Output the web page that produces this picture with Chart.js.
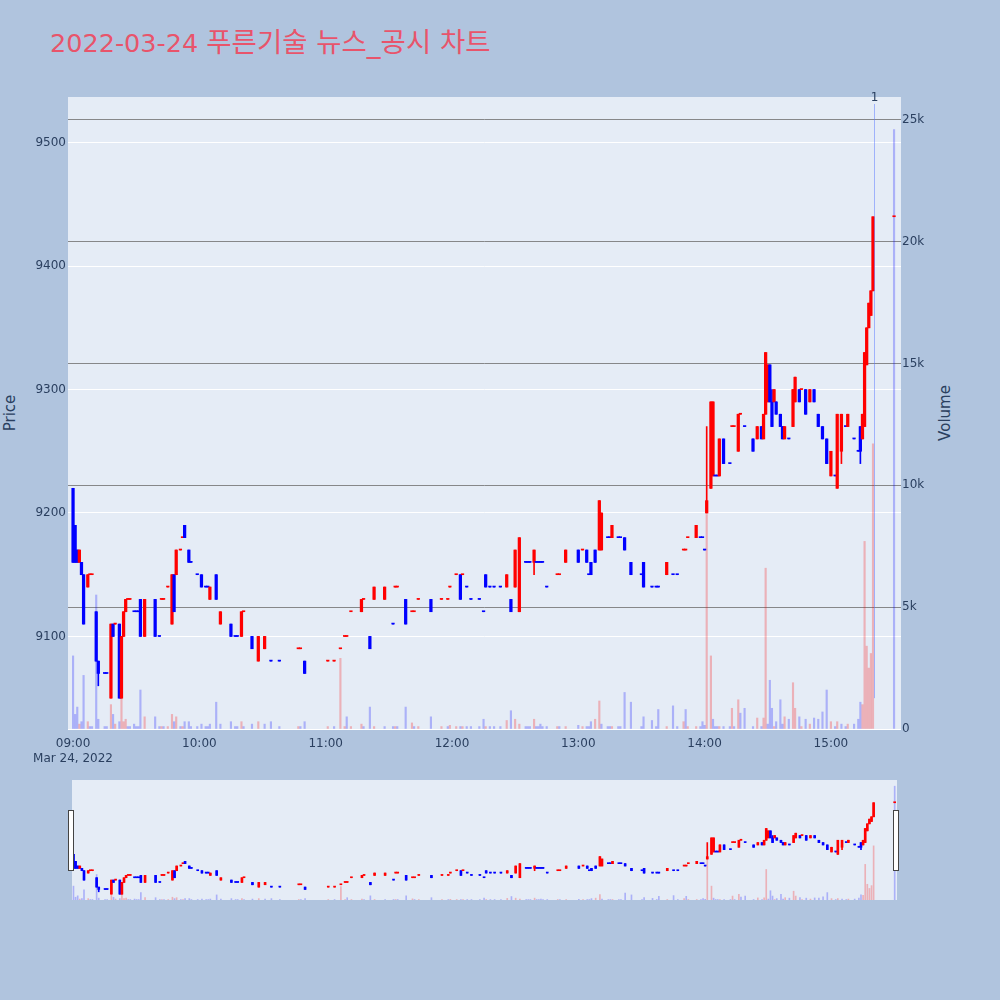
<!DOCTYPE html>
<html>
<head>
<meta charset="utf-8">
<script src="https://cdn.jsdelivr.net/npm/chart.js@4.4.0/dist/chart.umd.min.js"></script>
<style>
  html, body { margin: 0; padding: 0; background: #b0c4de; }
  body { width: 1000px; height: 1000px; position: relative; overflow: hidden; font-family: "DejaVu Sans", Verdana, sans-serif; }
  #title { position: absolute; left: 50px; top: 29px; font-size: 25.5px; line-height: 1; color: #e8546b; white-space: nowrap; }
  #title .ko { font-family: "DejaVu Sans", "Noto Sans CJK KR", sans-serif; font-size: 27.5px; }
  .ytitle { position: absolute; font-size: 15px; color: #2a3f5f; transform: translate(-50%, -50%) rotate(-90deg); white-space: nowrap; }
  #main { position: absolute; left: 0; top: 0; }
  #slider { position: absolute; left: 0; top: 770px; }
</style>
</head>
<body>
<div id="title">2022-03-24 <span class="ko">푸른기술 뉴스_공시 차트</span></div>
<div class="ytitle" style="left:10px; top:413px">Price</div>
<div class="ytitle" style="left:945px; top:413px">Volume</div>
<canvas id="main" width="1000" height="770"></canvas>
<canvas id="slider" width="1000" height="140"></canvas>
<script>
// minutes after 09:00
const minutes = [
  0, 1, 2, 3, 4, 5, 7, 8, 9, 11,
  12, 15, 16, 18, 19, 20, 22, 23, 24, 25,
  26, 27, 29, 30, 31, 32, 34, 39, 41, 42,
  43, 45, 47, 48, 49, 51, 52, 53, 55, 56,
  59, 61, 63, 64, 65, 68, 70, 75, 77, 78,
  80, 81, 85, 88, 91, 94, 98, 107, 108, 110,
  121, 124, 127, 129, 130, 132, 137, 138, 141, 143,
  148, 152, 153, 154, 158, 161, 162, 164, 170, 175,
  178, 179, 182, 184, 185, 187, 189, 193, 195, 196,
  198, 200, 203, 206, 208, 210, 212, 215, 216, 217,
  219, 220, 221, 222, 223, 225, 230, 231, 234, 240,
  242, 244, 245, 246, 248, 250, 251, 254, 255, 256,
  259, 260, 262, 265, 270, 271, 275, 277, 278, 282,
  285, 287, 290, 291, 292, 296, 298, 299, 300, 301,
  303, 304, 305, 306, 307, 309, 312, 313, 314, 316,
  317, 319, 323, 325, 327, 328, 329, 330, 331, 332,
  333, 334, 336, 337, 338, 340, 342, 343, 345, 346,
  348, 350, 352, 354, 356, 358, 360, 362, 363, 365,
  367, 368, 371, 373, 374, 375, 376, 377, 378, 379,
  380, 390
];
const opens = [
  9220, 9190, 9170, 9160, 9160, 9150, 9140, 9150, 9150, 9120,
  9080, 9070, 9070, 9050, 9110, 9110, 9110, 9050, 9100, 9120,
  9130, 9130, 9120, 9120, 9120, 9130, 9100, 9130, 9100, 9130,
  9130, 9140, 9110, 9150, 9150, 9170, 9180, 9190, 9170, 9160,
  9150, 9150, 9140, 9140, 9130, 9150, 9110, 9110, 9100, 9100,
  9100, 9120, 9100, 9080, 9090, 9080, 9080, 9090, 9090, 9080,
  9080, 9080, 9090, 9100, 9100, 9120, 9120, 9130, 9100, 9130,
  9130, 9110, 9140, 9140, 9130, 9120, 9120, 9130, 9130, 9130,
  9130, 9140, 9150, 9150, 9150, 9140, 9130, 9130, 9120, 9150,
  9140, 9140, 9140, 9140, 9130, 9140, 9120, 9160, 9160, 9160,
  9160, 9160, 9160, 9160, 9160, 9140, 9150, 9150, 9160, 9170,
  9170, 9170, 9150, 9160, 9170, 9170, 9170, 9180, 9180, 9180,
  9180, 9180, 9180, 9160, 9150, 9160, 9140, 9140, 9140, 9150,
  9150, 9150, 9170, 9170, 9180, 9180, 9180, 9180, 9170, 9200,
  9220, 9230, 9230, 9230, 9230, 9260, 9240, 9270, 9270, 9250,
  9280, 9270, 9260, 9260, 9270, 9260, 9280, 9290, 9320, 9290,
  9290, 9290, 9280, 9270, 9260, 9260, 9270, 9290, 9300, 9300,
  9300, 9290, 9300, 9280, 9270, 9260, 9230, 9230, 9220, 9250,
  9270, 9270, 9260, 9250, 9270, 9260, 9270, 9320, 9350, 9360,
  9380, 9440
];
const highs = [
  9220, 9190, 9170, 9170, 9160, 9150, 9150, 9150, 9150, 9120,
  9080, 9070, 9070, 9110, 9110, 9110, 9110, 9100, 9120, 9130,
  9130, 9130, 9120, 9120, 9120, 9130, 9130, 9130, 9100, 9130,
  9130, 9140, 9150, 9150, 9170, 9170, 9180, 9190, 9170, 9160,
  9150, 9150, 9140, 9140, 9140, 9150, 9120, 9110, 9100, 9100,
  9120, 9120, 9100, 9100, 9100, 9080, 9080, 9090, 9090, 9080,
  9080, 9080, 9090, 9100, 9100, 9120, 9130, 9130, 9100, 9140,
  9140, 9110, 9140, 9140, 9130, 9120, 9120, 9130, 9130, 9130,
  9130, 9140, 9150, 9150, 9150, 9140, 9130, 9130, 9120, 9150,
  9140, 9140, 9140, 9150, 9130, 9170, 9180, 9160, 9160, 9160,
  9170, 9160, 9160, 9160, 9160, 9140, 9150, 9150, 9170, 9170,
  9170, 9170, 9150, 9160, 9170, 9210, 9200, 9180, 9180, 9190,
  9180, 9180, 9180, 9160, 9150, 9160, 9140, 9140, 9140, 9160,
  9150, 9150, 9170, 9170, 9180, 9190, 9180, 9180, 9170, 9270,
  9290, 9290, 9230, 9230, 9260, 9260, 9240, 9270, 9270, 9280,
  9280, 9270, 9260, 9270, 9270, 9280, 9330, 9320, 9320, 9300,
  9300, 9290, 9280, 9270, 9270, 9260, 9300, 9310, 9300, 9300,
  9300, 9300, 9300, 9280, 9270, 9260, 9250, 9230, 9280, 9280,
  9270, 9280, 9260, 9250, 9270, 9280, 9330, 9350, 9370, 9380,
  9440, 9440
];
const lows = [
  9160, 9160, 9160, 9160, 9150, 9110, 9140, 9150, 9150, 9080,
  9060, 9070, 9070, 9050, 9100, 9110, 9050, 9050, 9100, 9120,
  9130, 9130, 9120, 9120, 9120, 9100, 9100, 9100, 9100, 9130,
  9130, 9140, 9110, 9120, 9150, 9170, 9180, 9180, 9160, 9160,
  9150, 9140, 9140, 9140, 9130, 9130, 9110, 9100, 9100, 9100,
  9100, 9120, 9090, 9080, 9090, 9080, 9080, 9090, 9090, 9070,
  9080, 9080, 9090, 9100, 9100, 9120, 9120, 9130, 9090, 9130,
  9130, 9110, 9140, 9140, 9110, 9120, 9120, 9130, 9120, 9130,
  9130, 9140, 9150, 9130, 9150, 9140, 9130, 9130, 9120, 9140,
  9140, 9140, 9140, 9140, 9120, 9140, 9120, 9160, 9160, 9160,
  9150, 9160, 9160, 9160, 9160, 9140, 9150, 9150, 9160, 9160,
  9170, 9160, 9150, 9150, 9160, 9170, 9170, 9180, 9180, 9180,
  9180, 9180, 9170, 9150, 9150, 9140, 9140, 9140, 9140, 9150,
  9150, 9150, 9170, 9170, 9180, 9180, 9180, 9180, 9170, 9200,
  9220, 9230, 9230, 9230, 9230, 9240, 9240, 9270, 9270, 9250,
  9280, 9270, 9250, 9260, 9260, 9260, 9280, 9290, 9290, 9270,
  9290, 9280, 9270, 9260, 9260, 9260, 9270, 9290, 9290, 9300,
  9280, 9290, 9290, 9270, 9260, 9240, 9230, 9230, 9220, 9240,
  9270, 9270, 9260, 9250, 9240, 9260, 9270, 9320, 9350, 9360,
  9380, 9440
];
const closes = [
  9160, 9160, 9160, 9170, 9150, 9110, 9150, 9150, 9150, 9080,
  9070, 9070, 9070, 9110, 9100, 9110, 9050, 9100, 9120, 9130,
  9130, 9130, 9120, 9120, 9120, 9100, 9130, 9100, 9100, 9130,
  9130, 9140, 9150, 9120, 9170, 9170, 9180, 9180, 9160, 9160,
  9150, 9140, 9140, 9140, 9140, 9130, 9120, 9100, 9100, 9100,
  9120, 9120, 9090, 9100, 9100, 9080, 9080, 9090, 9090, 9070,
  9080, 9080, 9090, 9100, 9100, 9120, 9130, 9130, 9090, 9140,
  9140, 9110, 9140, 9140, 9110, 9120, 9120, 9130, 9120, 9130,
  9130, 9140, 9150, 9130, 9150, 9140, 9130, 9130, 9120, 9140,
  9140, 9140, 9140, 9150, 9120, 9170, 9180, 9160, 9160, 9160,
  9170, 9160, 9160, 9160, 9160, 9140, 9150, 9150, 9170, 9160,
  9170, 9160, 9150, 9150, 9160, 9210, 9200, 9180, 9180, 9190,
  9180, 9180, 9170, 9150, 9150, 9140, 9140, 9140, 9140, 9160,
  9150, 9150, 9170, 9170, 9180, 9190, 9180, 9180, 9170, 9210,
  9290, 9290, 9230, 9230, 9260, 9240, 9240, 9270, 9270, 9280,
  9280, 9270, 9250, 9270, 9260, 9280, 9330, 9320, 9290, 9270,
  9300, 9280, 9270, 9260, 9270, 9260, 9300, 9310, 9290, 9300,
  9280, 9300, 9290, 9270, 9260, 9240, 9250, 9230, 9280, 9280,
  9270, 9280, 9260, 9250, 9250, 9280, 9330, 9350, 9370, 9380,
  9440, 9440
];
const volumes = [
  3000, 600, 900, 200, 300, 2200, 300, 100, 100, 5500,
  400, 100, 100, 1000, 600, 200, 300, 1800, 300, 400,
  100, 100, 200, 100, 100, 1600, 500, 500, 100, 100,
  100, 100, 600, 300, 500, 100, 100, 300, 300, 100,
  100, 200, 100, 100, 200, 1100, 200, 300, 100, 100,
  300, 100, 200, 300, 200, 300, 100, 100, 100, 300,
  100, 100, 2900, 100, 500, 100, 200, 100, 900, 100,
  100, 100, 100, 100, 900, 250, 100, 100, 500, 100,
  100, 150, 100, 100, 100, 100, 100, 100, 400, 100,
  100, 100, 100, 350, 750, 400, 200, 100, 100, 100,
  400, 100, 100, 200, 100, 100, 100, 100, 100, 150,
  100, 100, 100, 300, 400, 1150, 200, 100, 100, 100,
  100, 100, 1500, 1100, 100, 500, 350, 100, 800, 100,
  950, 100, 300, 800, 100, 100, 100, 300, 150, 8800,
  3000, 400, 100, 100, 100, 100, 100, 850, 100, 1200,
  650, 850, 100, 450, 100, 450, 6600, 200, 2000, 850,
  100, 300, 1200, 200, 500, 400, 1900, 850, 500, 100,
  400, 200, 450, 400, 700, 1600, 300, 100, 300, 200,
  100, 200, 200, 400, 1100, 1000, 7700, 3400, 2500, 3100,
  11700, 24600
];

const priceTicks = [9100, 9200, 9300, 9400, 9500];
const volumeTicks = [0, 5000, 10000, 15000, 20000, 25000];
const volumeTickLabels = ['0', '5k', '10k', '15k', '20k', '25k'];
const timeTicks = [0, 60, 120, 180, 240, 300, 360];
const timeTickLabels = ['09:00', '10:00', '11:00', '12:00', '13:00', '14:00', '15:00'];
const dateLabel = 'Mar 24, 2022';

const newsMinutes = [380.5];
const newsLabels = ['1'];
const newsLineEnd = [9050];

const UP = '#ff0000';
const DOWN = '#0000ff';
const FONT = '"DejaVu Sans", Verdana, sans-serif';
const TICK_COLOR = '#2a3f5f';

// candle direction like plotly: a flat candle follows the previous close
const rising = [];
let inc = true;
closes.forEach((c, i) => {
  if (c !== opens[i]) inc = c > opens[i];
  else if (i > 0 && c !== closes[i - 1]) inc = c > closes[i - 1];
  rising.push(inc);
});
// volume colour: close above previous close
const volumeUp = closes.map((c, i) => i > 0 && c > closes[i - 1]);

function buildDatasets(bodyW, wickW, volW) {
  const colors = rising.map(r => (r ? UP : DOWN));
  return [
    {
      label: 'body',
      data: minutes.map((m, i) => ({ x: m, y: [opens[i], closes[i]] })),
      backgroundColor: colors,
      barThickness: bodyW,
      minBarLength: 1,
      grouped: false,
      yAxisID: 'y',
      order: 1,
    },
    {
      label: 'wick',
      data: minutes.map((m, i) => ({ x: m, y: [lows[i], highs[i]] })),
      backgroundColor: colors,
      barThickness: wickW,
      grouped: false,
      yAxisID: 'y',
      order: 2,
    },
    {
      label: 'volume',
      data: minutes.map((m, i) => ({ x: m, y: volumes[i] })),
      backgroundColor: volumeUp.map(u => (u ? 'rgba(255,0,0,0.25)' : 'rgba(0,0,255,0.25)')),
      barThickness: volW,
      grouped: false,
      yAxisID: 'v',
      order: 3,
    },
  ];
}

const plotBg = {
  id: 'plotBg',
  beforeDraw(chart) {
    const { ctx, chartArea: a } = chart;
    ctx.save();
    ctx.fillStyle = '#e5ecf6';
    ctx.fillRect(a.left, a.top, a.width, a.height);
    ctx.restore();
  },
};

const newsMarks = {
  id: 'newsMarks',
  afterDatasetsDraw(chart) {
    const { ctx, chartArea: a, scales } = chart;
    newsMinutes.forEach((m, i) => {
      const x = Math.round(scales.x.getPixelForValue(m)) + 0.5;
      ctx.save();
      ctx.strokeStyle = 'rgba(90,120,255,0.5)';
      ctx.lineWidth = 1;
      ctx.beginPath();
      ctx.moveTo(x, a.top + 7);
      ctx.lineTo(x, scales.y.getPixelForValue(newsLineEnd[i]));
      ctx.stroke();
      ctx.fillStyle = TICK_COLOR;
      ctx.font = '12px ' + FONT;
      ctx.textAlign = 'center';
      ctx.textBaseline = 'middle';
      ctx.fillText(newsLabels[i], x, a.top + 1);
      ctx.restore();
    });
  },
};

const sliderHandles = {
  id: 'sliderHandles',
  afterDraw(chart) {
    const { ctx, chartArea: a } = chart;
    ctx.save();
    ctx.fillStyle = '#ffffff';
    ctx.strokeStyle = '#444444';
    ctx.lineWidth = 1;
    [a.left, a.right].forEach(x => {
      const left = Math.round(x) - 3.5;
      ctx.fillRect(left, 40.5, 5, 60);
      ctx.strokeRect(left, 40.5, 5, 60);
    });
    ctx.restore();
  },
};

new Chart(document.getElementById('main'), {
  type: 'bar',
  data: { datasets: buildDatasets(2.6, 1, 1.5) },
  plugins: [plotBg, newsMarks],
  options: {
    responsive: false,
    animation: false,
    devicePixelRatio: 1,
    layout: { padding: { top: 97, left: 0, right: 0, bottom: 0 } },
    plugins: { legend: { display: false }, tooltip: { enabled: false } },
    scales: {
      x: {
        type: 'linear',
        min: -2.4,
        max: 393.3,
        offset: false,
        grid: { display: false },
        border: { display: false },
        afterBuildTicks: s => { s.ticks = timeTicks.map(v => ({ value: v })); },
        afterFit: s => { s.height = 41; },
        ticks: {
          autoSkip: false,
          maxRotation: 0,
          padding: 0,
          color: TICK_COLOR,
          font: { family: FONT, size: 12 },
          callback: (v, i) => (i === 0 ? [timeTickLabels[i], dateLabel] : timeTickLabels[i]),
        },
      },
      y: {
        position: 'left',
        min: 9025,
        max: 9537,
        afterBuildTicks: s => { s.ticks = priceTicks.map(v => ({ value: v })); },
        afterFit: s => { s.width = 68; },
        grid: { color: '#ffffff', drawTicks: false },
        border: { display: false },
        ticks: { padding: 2, color: TICK_COLOR, font: { family: FONT, size: 12 }, callback: v => String(v) },
      },
      v: {
        position: 'right',
        min: 0,
        max: 25940,
        afterBuildTicks: s => { s.ticks = volumeTicks.map(v => ({ value: v })); },
        afterFit: s => { s.width = 99; },
        grid: {
          color: c => (c.tick && c.tick.value === 0 ? '#ffffff' : 'rgba(110,110,110,0.8)'),
          drawTicks: false,
        },
        border: { display: false },
        ticks: {
          padding: 1,
          color: TICK_COLOR,
          font: { family: FONT, size: 12 },
          callback: v => volumeTickLabels[volumeTicks.indexOf(v)],
        },
      },
    },
  },
});

// range slider overview
new Chart(document.getElementById('slider'), {
  type: 'bar',
  data: { datasets: buildDatasets(2, 1, 1) },
  plugins: [plotBg, sliderHandles],
  options: {
    responsive: false,
    animation: false,
    devicePixelRatio: 1,
    layout: { padding: { top: 10, left: 72, right: 103, bottom: 10 } },
    plugins: { legend: { display: false }, tooltip: { enabled: false } },
    scales: {
      x: { type: 'linear', min: -0.7, max: 391.1, offset: false, display: false },
      y: { min: 9025, max: 9537, display: false },
      v: { min: 0, max: 25940, display: false },
    },
  },
});
</script>
</body>
</html>
